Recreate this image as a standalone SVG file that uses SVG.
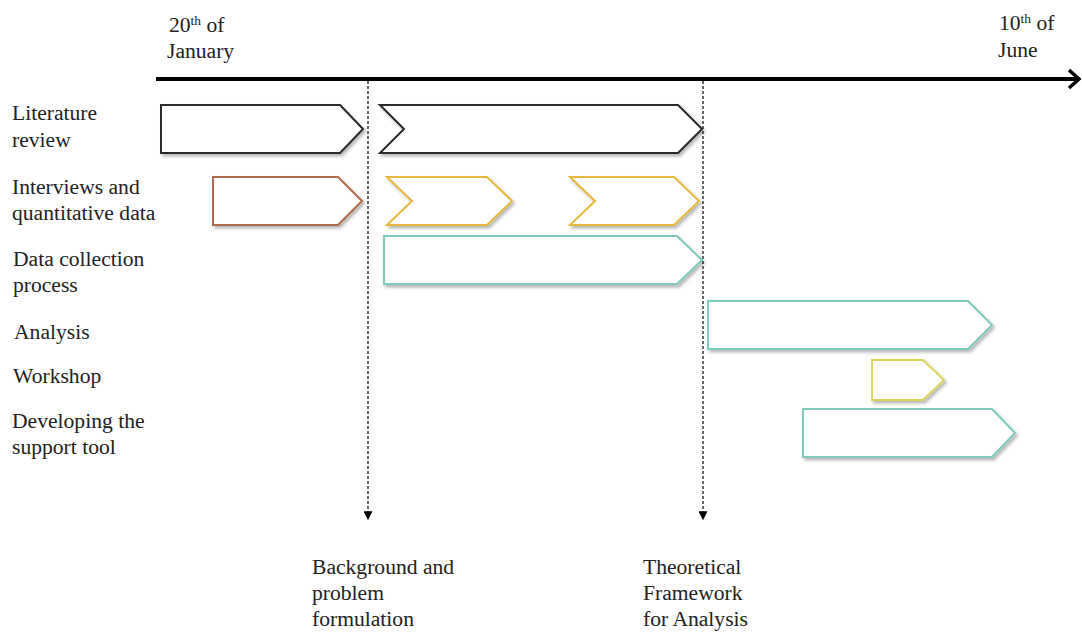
<svg xmlns="http://www.w3.org/2000/svg" width="1082" height="632" viewBox="0 0 1082 632">
  <defs>
    <filter id="shadow" x="-10%" y="-20%" width="120%" height="150%">
      <feDropShadow dx="2" dy="2.5" stdDeviation="1.6" flood-color="#000" flood-opacity="0.28"/>
    </filter>
    <marker id="tri" viewBox="0 0 10 10" refX="2" refY="5" markerWidth="9" markerHeight="9" markerUnits="userSpaceOnUse" orient="auto">
      <path d="M0,0 L10,5 L0,10 Z" fill="#000"/>
    </marker>
  </defs>
  <style>
    text { font-family: "Liberation Serif", Tinos, "Times New Roman", "DejaVu Serif", serif; font-size: 21.6px; fill: #222; }
    .bar { fill: #fff; stroke-width: 2; stroke-linejoin: miter; filter: url(#shadow); }
    .black { stroke: #2a2a2a; }
    .brown { stroke: #b06a4e; }
    .gold { stroke: #e7b83e; }
    .teal { stroke: #7ecbbb; }
    .lime { stroke: #ddd460; }
    .sup { font-size: 13.5px; }
    .guide { stroke: #000; stroke-width: 1.2; stroke-dasharray: 3 2; fill: none; }
  </style>

  <rect width="1082" height="632" fill="#fff"/>

  <!-- time axis -->
  <g id="axis">
    <line x1="156" y1="79" x2="1078" y2="79" stroke="#000" stroke-width="4"/>
    <polyline points="1069,70 1079,79 1069,88" fill="none" stroke="#000" stroke-width="3.5"/>
    <text x="169" y="32">20<tspan class="sup" dy="-7">th</tspan><tspan dy="7"> of</tspan></text>
    <text x="167" y="58">January</text>
    <text x="999" y="30">10<tspan class="sup" dy="-7">th</tspan><tspan dy="7"> of</tspan></text>
    <text x="998" y="57">June</text>
  </g>

  <!-- milestone connectors -->
  <g id="connectors">
    <line class="guide" x1="368" y1="81" x2="368" y2="513" marker-end="url(#tri)"/>
    <line class="guide" x1="703" y1="81" x2="703" y2="513" marker-end="url(#tri)"/>
  </g>

  <!-- row labels -->
  <g id="labels">
    <text x="12" y="120">Literature</text>
    <text x="12" y="147">review</text>
    <text x="12" y="194">Interviews and</text>
    <text x="12" y="220">quantitative data</text>
    <text x="13" y="266">Data collection</text>
    <text x="13" y="292">process</text>
    <text x="14" y="339">Analysis</text>
    <text x="13" y="383">Workshop</text>
    <text x="12" y="428">Developing the</text>
    <text x="12" y="454">support tool</text>
  </g>

  <!-- task bars -->
  <g id="lit-review-1"><polygon class="bar black" points="161,105 340,105 363,129 340,153 161,153"/></g>
  <g id="lit-review-2"><polygon class="bar black" points="380,105 678,105 702,129 678,153 380,153 404,129"/></g>
  <g id="interviews-1"><polygon class="bar brown" points="213,177 338,177 362,201 338,225 213,225"/></g>
  <g id="interviews-2"><polygon class="bar gold" points="387,177 487,177 512,201 487,225 387,225 412,201"/></g>
  <g id="interviews-3"><polygon class="bar gold" points="570,177 674,177 699,201 674,225 570,225 595,201"/></g>
  <g id="data-collection"><polygon class="bar teal" points="384,236 677,236 702,260 677,284 384,284"/></g>
  <g id="analysis"><polygon class="bar teal" points="708,301 968,301 992,325 968,349 708,349"/></g>
  <g id="workshop"><polygon class="bar lime" points="872,360 923,360 944,380 923,400 872,400"/></g>
  <g id="support-tool"><polygon class="bar teal" points="803,409 992,409 1015,433 992,457 803,457"/></g>

  <!-- milestone labels -->
  <g id="milestone-background">
    <text x="312" y="574">Background and</text>
    <text x="312" y="600">problem</text>
    <text x="312" y="626">formulation</text>
  </g>
  <g id="milestone-framework">
    <text x="643" y="574">Theoretical</text>
    <text x="643" y="600">Framework</text>
    <text x="643" y="626">for Analysis</text>
  </g>
</svg>
